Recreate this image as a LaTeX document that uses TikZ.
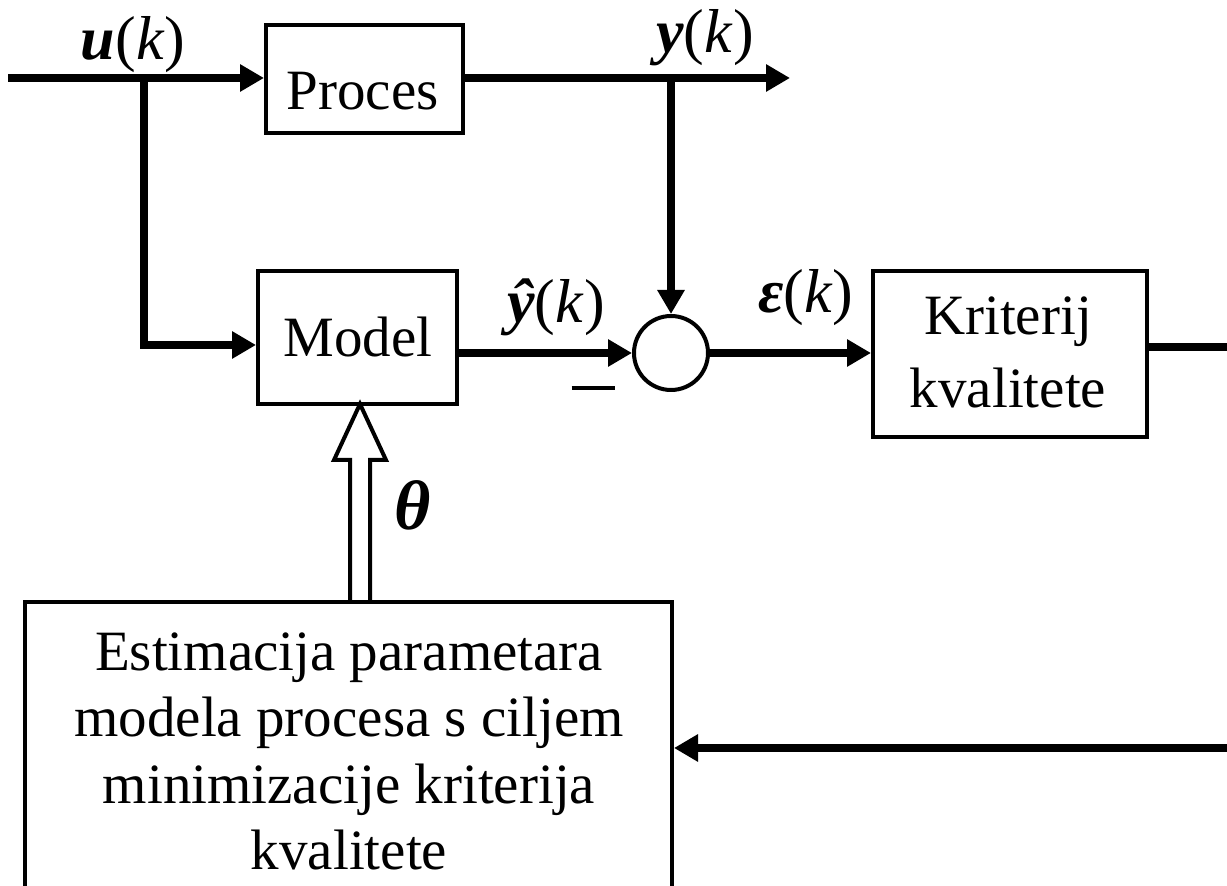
\documentclass[tikz,border=0pt]{standalone}
\usepackage{fontspec}
\setmainfont{Liberation Serif}
\usetikzlibrary{arrows.meta}
\begin{document}
\begin{tikzpicture}[x=0.5pt,y=-0.5pt,
  blk/.style={draw, line width=2pt, inner sep=0pt, fill=white},
  txt/.style={font=\fontsize{28.5}{33}\selectfont, inner sep=0pt},
  lbl/.style={font=\fontsize{31}{36}\selectfont, inner sep=0pt, anchor=base},
  wire/.style={line width=4.2pt},
  sig/.style={wire, -{Triangle[length=12pt,width=13pt]}},
  hollow/.style={line width=2pt, fill=white, line join=miter}]
\useasboundingbox (0,0) rectangle (1227,886);
\clip (0,0) rectangle (1227,886);

% blocks
\node[blk, minimum width=98.5pt, minimum height=54pt] (proc) at (364.5,79) {};
\node[blk, minimum width=99.5pt, minimum height=66.5pt] (model) at (357.5,337.5) {};
\node[blk, minimum width=137pt, minimum height=83pt] (krit) at (1010,354) {};
\node[blk, circle, minimum size=37pt] (sum) at (671,353) {};
\node[blk, minimum width=323.75pt, minimum height=159pt] (est) at (348.25,761) {};

% block texts
\node[txt, anchor=base] (proctext) at (362.5,110) {Proces};
\node[txt, anchor=base] (modeltext) at (358,357) {Model};
\node[txt, anchor=north, align=center, font=\fontsize{28.5}{36.5}\selectfont] (krittext) at (1008,296) {Kriterij\\kvalitete};
\node[txt, anchor=north, align=center, font=\fontsize{28.5}{33.25}\selectfont] (esttext) at (349,632)
  {Estimacija parametara\\modela procesa s ciljem\\minimizacije kriterija\\kvalitete};

% signal labels
\node[lbl] (ulab) at (133,60) {\textbf{\textit{u}}(\textit{k})};
\node[lbl] (ylab) at (705,53) {\textbf{\textit{y}}(\textit{k})};
\node[lbl] (yhlab) at (556,323) {\textbf{\textit{ŷ}}(\textit{k})};
\node[lbl] (elab) at (806,313) {\textbf{\textit{ε}}(\textit{k})};
\node[lbl, font=\fontsize{35}{40}\selectfont] (thlab) at (413,530) {\textbf{\textit{θ}}};
\node[inner sep=0pt] (minus) at (593,388) {\rule{21.5pt}{2pt}};

% free ends and branch points
\coordinate (uin) at (8,78);
\coordinate (ub) at (144,78);
\coordinate (mdy) at (0,345);
\coordinate (yb) at (671,78);
\coordinate (yout) at (790,78);
\coordinate (kout) at (1240,347);
\coordinate (fbr) at (1240,748);
\coordinate (hx) at (350,0);

% connectors
\draw[sig] (uin) -- (uin -| proc.west);
\draw[sig] (ub) |- (model.west |- mdy);
\draw[sig] (proc.east |- yb) -- (yout);
\draw[sig] (yb) -- (sum.north);
\draw[sig] (model.east |- sum.west) -- (sum.west);
\draw[sig] (sum.east) -- (sum.east -| krit.west);
\draw[wire] (krit.east |- kout) -- (kout);
\draw[sig] (fbr) -- (est.east |- fbr);

% parameter vector (hollow arrow)
\draw[hollow] (est.north -| hx) -- ++(0,-140) -- ++(-16,0) -- ++(26,-56)
  -- ++(26,56) -- ++(-16,0) -- ++(0,140);
\end{tikzpicture}
\end{document}
